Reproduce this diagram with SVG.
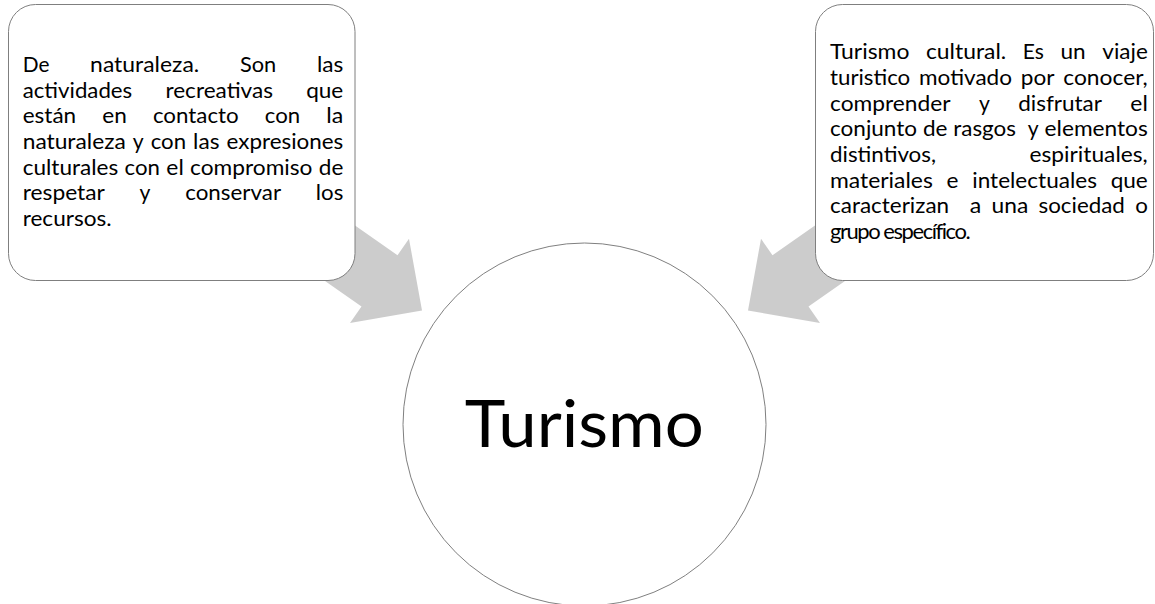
<svg xmlns="http://www.w3.org/2000/svg" width="1155" height="604" viewBox="0 0 1155 604">
<defs>
<linearGradient id="arrowFill" gradientUnits="userSpaceOnUse" x1="0" y1="200" x2="0" y2="330">
<stop offset="0" stop-color="#cccccc"/>
<stop offset="1" stop-color="#c4c4c4"/>
</linearGradient>
<style>
.box{fill:#ffffff;stroke:#7f7f7f;stroke-width:1}
.hub{fill:#ffffff;stroke:#808080;stroke-width:1}
.arrow{fill:url(#arrowFill);stroke:none}
.t{font-family:Lato,"Open Sans","Liberation Sans",sans-serif;font-size:22px;fill:#000000}
.big{font-family:Lato,"Open Sans","Liberation Sans",sans-serif;font-size:66px;fill:#000000}
</style>
</defs>
<g id="connectors">
<path class="arrow" transform="translate(379.5,280.85) rotate(35)" d="M-95,-31.4 L0,-31.4 L0,-51.4 L51.9,0 L0,51.4 L0,31.4 L-95,31.4 Z"/>
<path class="arrow" transform="translate(790.5,280.85) rotate(145)" d="M-95,-31.4 L0,-31.4 L0,-51.4 L51.9,0 L0,51.4 L0,31.4 L-95,31.4 Z"/>
</g>
<g id="node-naturaleza">
<rect class="box" x="8.5" y="4.5" width="346.5" height="276" rx="27" ry="27"/>
<text class="t" y="72"><tspan x="22.7" textLength="26.71" lengthAdjust="spacingAndGlyphs">De</tspan><tspan x="90.13" textLength="109.08" lengthAdjust="spacingAndGlyphs">naturaleza.</tspan><tspan x="239.93" textLength="36.26" lengthAdjust="spacingAndGlyphs">Son</tspan><tspan x="316.92" textLength="26.38" lengthAdjust="spacingAndGlyphs">las</tspan></text>
<text class="t" y="97.67"><tspan x="22.7" textLength="109.56" lengthAdjust="spacingAndGlyphs">actividades</tspan><tspan x="165.42" textLength="107.57" lengthAdjust="spacingAndGlyphs">recreativas</tspan><tspan x="306.15" textLength="37.15" lengthAdjust="spacingAndGlyphs">que</tspan></text>
<text class="t" y="123.33"><tspan x="22.7" textLength="53.47" lengthAdjust="spacingAndGlyphs">están</tspan><tspan x="102.27" textLength="24.55" lengthAdjust="spacingAndGlyphs">en</tspan><tspan x="152.92" textLength="85.78" lengthAdjust="spacingAndGlyphs">contacto</tspan><tspan x="264.8" textLength="35.4" lengthAdjust="spacingAndGlyphs">con</tspan><tspan x="326.31" textLength="16.99" lengthAdjust="spacingAndGlyphs">la</tspan></text>
<text class="t" y="149"><tspan x="22.7" textLength="103.03" lengthAdjust="spacingAndGlyphs">naturaleza</tspan><tspan x="132.78" textLength="10.87" lengthAdjust="spacingAndGlyphs">y</tspan><tspan x="150.69" textLength="35.4" lengthAdjust="spacingAndGlyphs">con</tspan><tspan x="193.14" textLength="26.38" lengthAdjust="spacingAndGlyphs">las</tspan><tspan x="226.56" textLength="116.74" lengthAdjust="spacingAndGlyphs">expresiones</tspan></text>
<text class="t" y="174.67"><tspan x="22.7" textLength="95.59" lengthAdjust="spacingAndGlyphs">culturales</tspan><tspan x="124.62" textLength="35.4" lengthAdjust="spacingAndGlyphs">con</tspan><tspan x="166.35" textLength="17.45" lengthAdjust="spacingAndGlyphs">el</tspan><tspan x="190.13" textLength="122.3" lengthAdjust="spacingAndGlyphs">compromiso</tspan><tspan x="318.75" textLength="24.55" lengthAdjust="spacingAndGlyphs">de</tspan></text>
<text class="t" y="200.33"><tspan x="22.7" textLength="82.18" lengthAdjust="spacingAndGlyphs">respetar</tspan><tspan x="139.61" textLength="10.87" lengthAdjust="spacingAndGlyphs">y</tspan><tspan x="185.21" textLength="95.83" lengthAdjust="spacingAndGlyphs">conservar</tspan><tspan x="315.77" textLength="27.53" lengthAdjust="spacingAndGlyphs">los</tspan></text>
<text class="t" y="226"><tspan x="22.7" textLength="88.92" lengthAdjust="spacingAndGlyphs">recursos.</tspan></text>
</g>
<g id="node-cultural">
<rect class="box" x="815.5" y="4.5" width="338" height="276" rx="27" ry="27"/>
<text class="t" y="59.2"><tspan x="830" textLength="79.37" lengthAdjust="spacingAndGlyphs">Turismo</tspan><tspan x="925.95" textLength="80.3" lengthAdjust="spacingAndGlyphs">cultural.</tspan><tspan x="1022.83" textLength="21.1" lengthAdjust="spacingAndGlyphs">Es</tspan><tspan x="1060.5" textLength="25.2" lengthAdjust="spacingAndGlyphs">un</tspan><tspan x="1102.27" textLength="45.53" lengthAdjust="spacingAndGlyphs">viaje</tspan></text>
<text class="t" y="84.87"><tspan x="830" textLength="80.23" lengthAdjust="spacingAndGlyphs">turistico</tspan><tspan x="919.05" textLength="92.95" lengthAdjust="spacingAndGlyphs">motivado</tspan><tspan x="1020.82" textLength="33.62" lengthAdjust="spacingAndGlyphs">por</tspan><tspan x="1063.27" textLength="84.53" lengthAdjust="spacingAndGlyphs">conocer,</tspan></text>
<text class="t" y="110.53"><tspan x="830" textLength="120.43" lengthAdjust="spacingAndGlyphs">comprender</tspan><tspan x="978.88" textLength="10.87" lengthAdjust="spacingAndGlyphs">y</tspan><tspan x="1018.2" textLength="83.69" lengthAdjust="spacingAndGlyphs">disfrutar</tspan><tspan x="1130.35" textLength="17.45" lengthAdjust="spacingAndGlyphs">el</tspan></text>
<text class="t" y="136.2"><tspan x="830" textLength="87.02" lengthAdjust="spacingAndGlyphs">conjunto</tspan><tspan x="922.93" textLength="24.55" lengthAdjust="spacingAndGlyphs">de</tspan><tspan x="953.39" textLength="62.59" lengthAdjust="spacingAndGlyphs">rasgos</tspan><tspan x="1027.81" textLength="10.87" lengthAdjust="spacingAndGlyphs">y</tspan><tspan x="1044.6" textLength="103.2" lengthAdjust="spacingAndGlyphs">elementos</tspan></text>
<text class="t" y="161.87"><tspan x="830" textLength="106.03" lengthAdjust="spacingAndGlyphs">distintivos,</tspan><tspan x="1029.53" textLength="118.27" lengthAdjust="spacingAndGlyphs">espirituales,</tspan></text>
<text class="t" y="187.53"><tspan x="830" textLength="102.86" lengthAdjust="spacingAndGlyphs">materiales</tspan><tspan x="946.59" textLength="11.95" lengthAdjust="spacingAndGlyphs">e</tspan><tspan x="972.27" textLength="124.66" lengthAdjust="spacingAndGlyphs">intelectuales</tspan><tspan x="1110.65" textLength="37.15" lengthAdjust="spacingAndGlyphs">que</tspan></text>
<text class="t" y="213.2"><tspan x="830" textLength="119.11" lengthAdjust="spacingAndGlyphs">caracterizan</tspan><tspan x="969.71" textLength="11.5" lengthAdjust="spacingAndGlyphs">a</tspan><tspan x="991.51" textLength="36.7" lengthAdjust="spacingAndGlyphs">una</tspan><tspan x="1038.51" textLength="86.33" lengthAdjust="spacingAndGlyphs">sociedad</tspan><tspan x="1135.15" textLength="12.65" lengthAdjust="spacingAndGlyphs">o</tspan></text>
<text class="t" x="830" y="238.87" textLength="140" lengthAdjust="spacing" letter-spacing="-0.6">grupo específico.</text>
</g>
<g id="node-turismo">
<circle class="hub" cx="584.5" cy="424.5" r="181.5"/>
<text class="big" x="584.3" y="446.7" text-anchor="middle" textLength="239" lengthAdjust="spacingAndGlyphs">Turismo</text>
</g>
</svg>
